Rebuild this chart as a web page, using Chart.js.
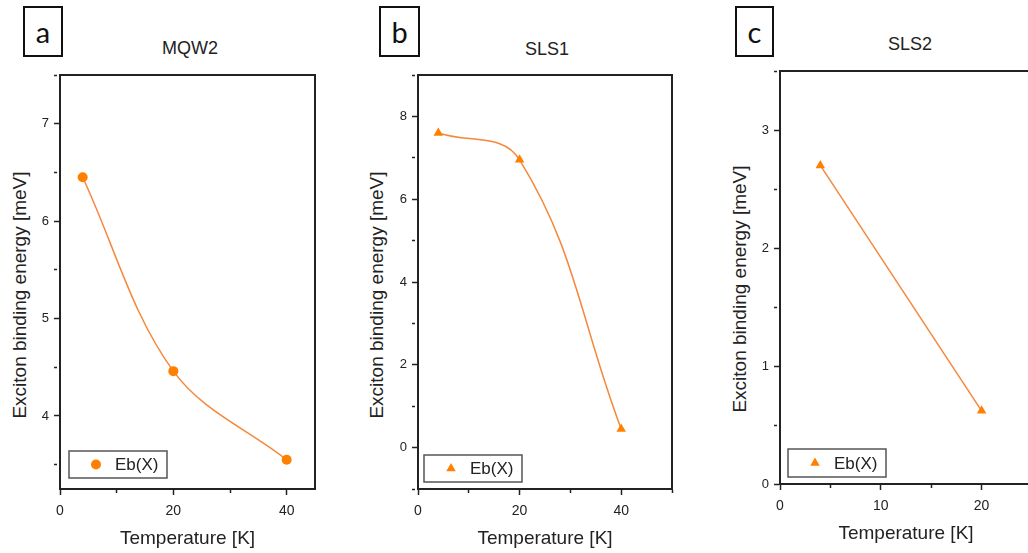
<!DOCTYPE html>
<html>
<head>
<meta charset="utf-8">
<script src="https://cdn.jsdelivr.net/npm/chart.js@4.4.1/dist/chart.umd.min.js"></script>
<style>
  body { margin: 0; background: #fff; overflow: hidden; width: 1028px; height: 553px; position: relative;
         font-family: "Liberation Sans", Arial, sans-serif; color: #222; }
  canvas { position: absolute; top: 0; }
  .letter { position: absolute; top: 6px; height: 51px; box-sizing: border-box; border: 2px solid #111;
            display: flex; align-items: center; justify-content: center;
            font-family: Lato, sans-serif; font-size: 29px; color: #111; }
  .title { position: absolute; transform: translate(-50%, -50%); font-size: 18px; white-space: nowrap; }
  .ylab { position: absolute; transform: translate(-50%, -50%) rotate(-90deg); font-size: 19px; white-space: nowrap; }
</style>
</head>
<body>
<div class="letter" style="left:23px;width:40px">a</div>
<div class="letter" style="left:379px;width:41px">b</div>
<div class="letter" style="left:735px;width:39px">c</div>
<div class="title" id="t0" style="left:190px;top:48px"></div>
<div class="title" id="t1" style="left:547px;top:49px"></div>
<div class="title" id="t2" style="left:910px;top:44px"></div>
<div class="ylab" id="y0" style="left:20px;top:295px"></div>
<div class="ylab" id="y1" style="left:377px;top:295px"></div>
<div class="ylab" id="y2" style="left:740px;top:289px"></div>
<canvas id="cA" width="340" height="553" style="left:0"></canvas>
<canvas id="cB" width="350" height="553" style="left:340px"></canvas>
<canvas id="cC" width="350" height="553" style="left:690px"></canvas>
<script>
// data
const panelTitles = ['MQW2', 'SLS1', 'SLS2'];
const seriesLabel = 'Eb(X)';
const xTitle = 'Temperature [K]';
const yTitle = 'Exciton binding energy [meV]';

const tempMQW2 = [4, 20, 40];
const ebMQW2 = [6.45, 4.46, 3.55];
const tempSLS1 = [4, 20, 40];
const ebSLS1 = [7.6, 6.95, 0.45];
const tempSLS2 = [4, 20];
const ebSLS2 = [2.7, 0.62];

// labelled (major) ticks, the rest are minor
const xTicksMQW2 = [0, 20, 40];
const yTicksMQW2 = [4, 5, 6, 7];
const xTicksSLS1 = [0, 20, 40];
const yTicksSLS1 = [0, 2, 4, 6, 8];
const xTicksSLS2 = [0, 10, 20];
const yTicksSLS2 = [0, 1, 2, 3];

const ink = '#222';
const orange = '#FF8000';
const lineOrange = '#F5883B';

panelTitles.forEach((t, i) => {
    document.getElementById('t' + i).textContent = t;
    document.getElementById('y' + i).textContent = yTitle;
});

// top and right edges of the box
const frame = {
    id: 'frame',
    beforeDatasetsDraw(chart) {
        const {ctx, chartArea: {left, right, top, bottom}} = chart;
        ctx.save();
        ctx.strokeStyle = ink;
        ctx.lineWidth = 2;
        ctx.beginPath();
        ctx.moveTo(left - 1, top);
        ctx.lineTo(right, top);
        ctx.lineTo(right, bottom + 1);
        ctx.stroke();
        ctx.restore();
    }
};

// legend box sitting inside the plot area
const insetLegend = {
    id: 'insetLegend',
    afterDatasetsDraw(chart, args, opts) {
        const {ctx, chartArea} = chart;
        const ds = chart.data.datasets[0];
        const x = chartArea.left + opts.left;
        const y = chartArea.bottom - opts.bottom - opts.height;
        ctx.save();
        ctx.fillStyle = '#fff';
        ctx.fillRect(x, y, opts.width, opts.height);
        ctx.strokeStyle = '#555';
        ctx.lineWidth = 1.5;
        ctx.strokeRect(x, y, opts.width, opts.height);
        ctx.fillStyle = ds.pointBackgroundColor;
        Chart.helpers.drawPoint(ctx, {pointStyle: ds.pointStyle, radius: ds.pointRadius, rotation: 0, borderWidth: 0},
            x + 27, y + opts.height / 2);
        ctx.fillStyle = ink;
        ctx.font = '17px "Liberation Sans", Arial, sans-serif';
        ctx.textBaseline = 'middle';
        ctx.fillText(ds.label, x + 46, y + opts.height / 2 + 1);
        ctx.restore();
    }
};

function makeChart(id, xs, ys, xLabels, yLabels, o) {
    const canvas = document.getElementById(id);
    const W = canvas.width, H = canvas.height;
    const pts = xs.map((x, i) => ({x: x, y: ys[i]}));
    return new Chart(canvas, {
        type: 'scatter',
        data: {
            datasets: [{
                label: seriesLabel,
                data: pts,
                showLine: true,
                borderColor: lineOrange,
                borderWidth: 1.5,
                tension: o.tension,
                pointStyle: o.pointStyle,
                pointRadius: o.pointRadius,
                pointBackgroundColor: orange,
                pointBorderWidth: 0
            }]
        },
        options: {
            responsive: false,
            animation: false,
            layout: {padding: {top: o.area.top, right: W - o.area.right, left: 0, bottom: 0}},
            plugins: {
                legend: {display: false},
                tooltip: {enabled: false},
                insetLegend: o.legend
            },
            scales: {
                x: {
                    type: 'linear',
                    min: o.x[0], max: o.x[1],
                    ticks: {
                        stepSize: o.x[2], autoSkip: false, includeBounds: false, maxRotation: 0,
                        padding: 8, color: ink, font: {size: 14},
                        callback: v => xLabels.includes(v) ? String(v) : ''
                    },
                    grid: {
                        drawOnChartArea: false, tickLength: 6, tickWidth: 1.5, tickColor: ink,
                        tickBorderDash: c => (c.tick && xLabels.includes(c.tick.value)) ? [] : [3, 30]
                    },
                    border: {color: ink, width: 2},
                    title: {display: true, text: xTitle, color: ink, font: {size: 19},
                            padding: {top: 0, bottom: o.xTitlePad}},
                    afterFit: s => { s.height = H - o.area.bottom; }
                },
                y: {
                    type: 'linear',
                    min: o.y[0], max: o.y[1],
                    ticks: {
                        stepSize: o.y[2], autoSkip: false, includeBounds: false,
                        padding: 5, color: ink, font: {size: 13},
                        callback: v => yLabels.includes(v) ? String(v) : ''
                    },
                    grid: {
                        drawOnChartArea: false, tickLength: 6, tickWidth: 1.5, tickColor: ink,
                        tickBorderDash: c => (c.tick && yLabels.includes(c.tick.value)) ? [] : [3, 30]
                    },
                    border: {color: ink, width: 2},
                    afterFit: s => { s.width = o.area.left; }
                }
            }
        },
        plugins: [frame, insetLegend]
    });
}

Chart.defaults.font.family = '"Liberation Sans", Arial, sans-serif';

makeChart('cA', tempMQW2, ebMQW2, xTicksMQW2, yTicksMQW2, {
    x: [0, 45, 10], y: [3.25, 7.5, 0.5],
    area: {left: 60, right: 315, top: 75, bottom: 489},
    pointStyle: 'circle', pointRadius: 5, tension: 0.35,
    xTitlePad: 3,
    legend: {left: 9, bottom: 11, width: 98, height: 27}
});

makeChart('cB', tempSLS1, ebSLS1, xTicksSLS1, yTicksSLS1, {
    x: [0, 50, 10], y: [-1, 9, 1],
    area: {left: 78, right: 332, top: 75, bottom: 489},
    pointStyle: 'triangle', pointRadius: 5.5, tension: 0.4,
    xTitlePad: 3,
    legend: {left: 6, bottom: 7, width: 98, height: 27}
});

makeChart('cC', tempSLS2, ebSLS2, xTicksSLS2, yTicksSLS2, {
    x: [0, 25, 5], y: [0, 3.5, 0.5],
    area: {left: 90, right: 345, top: 71, bottom: 484},
    pointStyle: 'triangle', pointRadius: 5.5, tension: 0,
    xTitlePad: 8,
    legend: {left: 8, bottom: 7, width: 98, height: 28}
});
</script>
</body>
</html>
